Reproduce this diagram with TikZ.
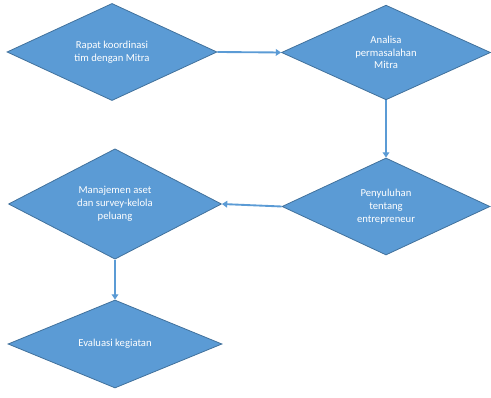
\documentclass[tikz,border=0pt]{standalone}
\usepackage{fontspec}
\setmainfont{Carlito}
\usetikzlibrary{shapes.geometric,arrows.meta}

\definecolor{boxfill}{RGB}{91,155,213}
\definecolor{boxline}{RGB}{65,113,156}

\tikzset{
  kegiatan/.style={diamond, draw=boxline, line width=0.6pt, fill=boxfill, text=white,
    inner sep=0pt, align=center, font=\fontsize{8}{9.6}\selectfont},
  alur/.style={draw=boxfill, line width=1.4pt, -{Triangle[length=4pt,width=5pt]}}
}

\begin{document}
\begin{tikzpicture}[x=0.75pt,y=0.75pt,yscale=-1,xscale=1]
\useasboundingbox (0,0) rectangle (491,398); %set diagram size as the reference

%Shape: Diamond [id:rapat]
\node [kegiatan, minimum width=157.5pt, minimum height=71pt] (rapat) at (112,52) {Rapat koordinasi\\tim dengan Mitra};
%Shape: Diamond [id:analisa]
\node [kegiatan, minimum width=156.75pt, minimum height=71pt] (analisa) at (386,52.5) {Analisa\\permasalahan\\Mitra};
%Shape: Diamond [id:penyuluhan]
\node [kegiatan, minimum width=156pt, minimum height=72.75pt] (penyuluhan) at (386,206.5) {Penyuluhan\\tentang\\entrepreneur};
%Shape: Diamond [id:manajemen]
\node [kegiatan, minimum width=159.75pt, minimum height=69pt] (manajemen) at (115,204) {Manajemen aset\\dan survey-kelola\\peluang};
%Shape: Diamond [id:evaluasi]
\node [kegiatan, minimum width=160.5pt, minimum height=66pt] (evaluasi) at (115,344) {Evaluasi kegiatan};

%Straight Lines [id:rapat-analisa]
\draw [alur] (rapat.east) -- (analisa.west) ;
%Straight Lines [id:analisa-penyuluhan]
\draw [alur] (analisa.south) -- (penyuluhan.north) ;
%Straight Lines [id:penyuluhan-manajemen]
\draw [alur] (penyuluhan.west) -- (manajemen.east) ;
%Straight Lines [id:manajemen-evaluasi]
\draw [alur] (manajemen.south) -- (evaluasi.north) ;

\end{tikzpicture}
\end{document}
